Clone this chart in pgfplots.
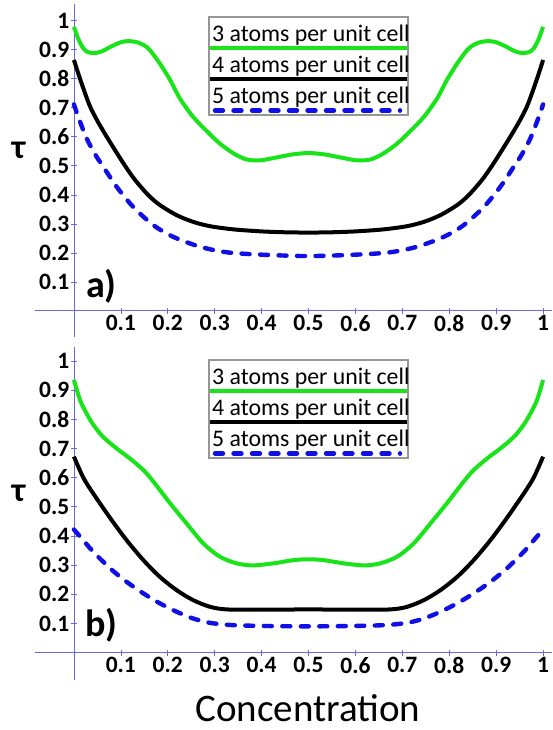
\documentclass[border=0pt]{standalone}
\usepackage{pgfplots}
\pgfplotsset{compat=1.18}
\usepackage{pgfplotstable}
\usepackage{fontspec}
\setmainfont{Carlito}

\definecolor{axisblue}{RGB}{105,105,230}
\definecolor{gthree}{RGB}{25,228,25}
\definecolor{bfive}{RGB}{15,15,230}
\definecolor{leggray}{RGB}{150,150,150}

% panel a)
\pgfplotstableread{
c tau
0.000 0.979
0.010 0.935
0.020 0.905
0.030 0.892
0.045 0.889
0.060 0.895
0.080 0.912
0.100 0.926
0.116 0.930
0.135 0.926
0.150 0.915
0.162 0.899
0.183 0.853
0.205 0.796
0.226 0.732
0.254 0.669
0.283 0.620
0.311 0.577
0.340 0.543
0.368 0.522
0.397 0.519
0.432 0.529
0.468 0.540
0.500 0.544
0.532 0.540
0.568 0.529
0.603 0.519
0.632 0.522
0.660 0.543
0.689 0.577
0.717 0.620
0.746 0.669
0.774 0.732
0.795 0.796
0.817 0.853
0.838 0.899
0.850 0.915
0.865 0.926
0.884 0.930
0.900 0.926
0.920 0.912
0.940 0.895
0.955 0.889
0.970 0.892
0.980 0.905
0.990 0.935
1.000 0.979
}\athree
\pgfplotstableread{
c tau
0.000 0.865
0.013 0.800
0.033 0.710
0.050 0.655
0.070 0.600
0.090 0.548
0.109 0.500
0.130 0.452
0.158 0.400
0.183 0.365
0.219 0.330
0.254 0.307
0.290 0.292
0.340 0.281
0.400 0.274
0.450 0.271
0.500 0.270
0.550 0.271
0.600 0.274
0.660 0.281
0.710 0.292
0.746 0.307
0.781 0.330
0.817 0.365
0.842 0.400
0.870 0.452
0.891 0.500
0.910 0.548
0.930 0.600
0.950 0.655
0.967 0.710
0.987 0.800
1.000 0.865
}\afour
\pgfplotstableread{
c tau
0.000 0.712
0.010 0.665
0.027 0.595
0.045 0.540
0.0625 0.497
0.091 0.428
0.126 0.359
0.169 0.296
0.212 0.255
0.269 0.221
0.326 0.202
0.397 0.194
0.500 0.189
0.603 0.194
0.674 0.202
0.731 0.221
0.788 0.255
0.831 0.296
0.874 0.359
0.909 0.428
0.9375 0.497
0.955 0.540
0.973 0.595
0.990 0.665
1.000 0.712
}\afive

% panel b)
\pgfplotstableread{
c tau
0.000 0.935
0.013 0.866
0.027 0.820
0.041 0.782
0.062 0.740
0.091 0.700
0.119 0.666
0.148 0.626
0.170 0.585
0.205 0.512
0.240 0.443
0.276 0.374
0.311 0.329
0.347 0.306
0.382 0.299
0.425 0.306
0.468 0.317
0.500 0.320
0.532 0.317
0.575 0.306
0.618 0.299
0.653 0.306
0.689 0.329
0.724 0.374
0.760 0.443
0.795 0.512
0.830 0.585
0.852 0.626
0.881 0.666
0.909 0.700
0.938 0.740
0.959 0.782
0.973 0.820
0.987 0.866
1.000 0.935
}\bthree
\pgfplotstableread{
c tau
0.000 0.672
0.020 0.600
0.041 0.546
0.077 0.462
0.112 0.386
0.148 0.317
0.183 0.260
0.219 0.214
0.254 0.180
0.290 0.157
0.326 0.148
0.400 0.147
0.500 0.148
0.600 0.147
0.674 0.148
0.710 0.157
0.746 0.180
0.781 0.214
0.817 0.260
0.852 0.317
0.888 0.386
0.923 0.462
0.959 0.546
0.980 0.600
1.000 0.672
}\bfour
\pgfplotstableread{
c tau
0.000 0.422
0.020 0.385
0.041 0.346
0.077 0.289
0.112 0.243
0.148 0.203
0.183 0.169
0.219 0.140
0.254 0.117
0.290 0.102
0.340 0.094
0.420 0.091
0.500 0.090
0.580 0.091
0.660 0.094
0.710 0.102
0.746 0.117
0.781 0.140
0.817 0.169
0.852 0.203
0.888 0.243
0.923 0.289
0.959 0.346
0.980 0.385
1.000 0.422
}\bfive

\pgfplotsset{
  panel/.style={
    scale only axis, width=517pt, height=333pt, anchor=south west,
    xmin=-0.083, xmax=1.019,
    axis lines=middle,
    axis line style={draw=axisblue, line width=0.8pt, -},
    xtick={0.1,0.2,0.3,0.4,0.5,0.6,0.7,0.8,0.9,1},
    xticklabels={0.1,0.2,0.3,0.4,0.5,0.6,0.7,0.8,0.9,1},
    ytick={0.1,0.2,0.3,0.4,0.5,0.6,0.7,0.8,0.9,1},
    yticklabels={0.1,0.2,0.3,0.4,0.5,0.6,0.7,0.8,0.9,1},
    tick style={draw=axisblue, line width=0.7pt},
    tick align=center, major tick length=6pt,
    tick label style={font=\bfseries\fontsize{23.5}{23.5}\selectfont},
    xticklabel style={inner sep=1.5pt},
    yticklabel style={inner sep=1.5pt},
    clip=false,
  },
  s3/.style={draw=gthree, line width=4pt, smooth},
  s4/.style={draw=black, line width=4pt, smooth},
  s5/.style={draw=bfive, line width=4.4pt, smooth, line cap=round,
    dash pattern=on 8pt off 10.5pt},
}

\newcommand{\legbox}{%
  \draw[leggray, line width=1.2pt] (209pt,0pt) rectangle (408pt,98pt);
  \draw[gthree, line width=4pt] (210pt,67pt) -- (407pt,67pt);
  \draw[black, line width=4pt] (210pt,35.5pt) -- (407pt,35.5pt);
  \draw[bfive, line width=4.4pt, line cap=round, dash pattern=on 8pt off 10.5pt]
    (215pt,4.5pt) -- (400pt,4.5pt);
  \node[anchor=base west, inner sep=0pt, font=\fontsize{23.8}{23.8}\selectfont]
    at (212pt,73.5pt) {3 atoms per unit cell};
  \node[anchor=base west, inner sep=0pt, font=\fontsize{23.8}{23.8}\selectfont]
    at (212pt,42.5pt) {4 atoms per unit cell};
  \node[anchor=base west, inner sep=0pt, font=\fontsize{23.8}{23.8}\selectfont]
    at (212pt,11.5pt) {5 atoms per unit cell};
}

\begin{document}
\begin{tikzpicture}
\path[use as bounding box] (0,0) rectangle (552pt,730pt);

% a)
\begin{axis}[panel, at={(35pt,393pt)}, ymin=-0.09, ymax=1.058]
\addplot[s3] table[x=c, y=tau] {\athree};
\addplot[s4] table[x=c, y=tau] {\afour};
\addplot[s5] table[x=c, y=tau] {\afive};
\end{axis}

% b)
\begin{axis}[panel, at={(35pt,50pt)}, ymin=-0.094, ymax=1.048]
\addplot[s3] table[x=c, y=tau] {\bthree};
\addplot[s4] table[x=c, y=tau] {\bfour};
\addplot[s5] table[x=c, y=tau] {\bfive};
\end{axis}

\begin{scope}[yshift=615pt]\legbox\end{scope}
\begin{scope}[yshift=272pt]\legbox\end{scope}

\node[font=\bfseries\fontsize{34}{34}\selectfont] at (18.5pt,580pt) {τ};
\node[font=\bfseries\fontsize{34}{34}\selectfont] at (18.5pt,237pt) {τ};
\node[font=\bfseries\fontsize{38}{38}\selectfont] at (101.5pt,444pt) {a)};
\node[font=\bfseries\fontsize{38}{38}\selectfont] at (101.5pt,105pt) {b)};
\node[anchor=base, inner sep=0pt, font=\fontsize{39}{39}\selectfont] at (308pt,9pt) {Concentration};
\end{tikzpicture}
\end{document}
